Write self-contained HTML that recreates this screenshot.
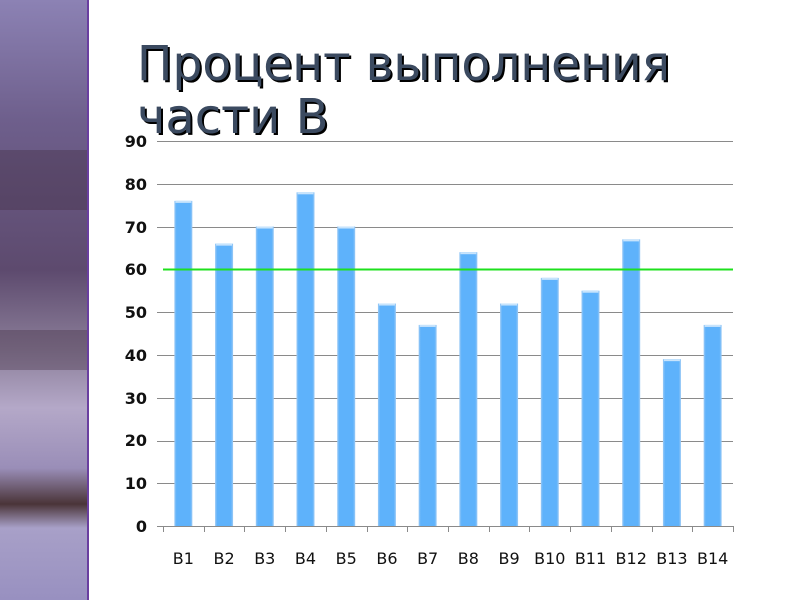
<!DOCTYPE html>
<html><head><meta charset="utf-8"><style>
html,body{margin:0;padding:0;background:#fff;}
</style></head><body>
<svg width="800" height="600" xmlns="http://www.w3.org/2000/svg" style="display:block">
<defs>
<linearGradient id="bg" x1="0" y1="0" x2="0" y2="1">
<stop offset="0" stop-color="#8c82b4"/>
<stop offset="0.2" stop-color="#6e5f8c"/>
<stop offset="0.45" stop-color="#5d4a6e"/>
<stop offset="0.58" stop-color="#8a7d98"/>
<stop offset="0.68" stop-color="#b4a8c8"/>
<stop offset="0.78" stop-color="#9a8eb8"/>
<stop offset="0.84" stop-color="#4a3438"/>
<stop offset="0.88" stop-color="#a8a0c8"/>
<stop offset="1" stop-color="#9890c0"/>
</linearGradient>
<linearGradient id="bar" x1="0" y1="0" x2="1" y2="0">
<stop offset="0" stop-color="#9ccaf5"/>
<stop offset="0.12" stop-color="#5eb2fb"/>
<stop offset="0.88" stop-color="#5eb2fb"/>
<stop offset="1" stop-color="#9ccaf5"/>
</linearGradient>
</defs>
<rect x="0" y="0" width="88" height="600" fill="url(#bg)"/>
<g fill="#3e2c40" opacity="0.35">
<rect x="0" y="150" width="88" height="60"/>
<rect x="0" y="330" width="88" height="40"/>
</g>
<rect x="87" y="0" width="2" height="600" fill="#6a3fa0"/>
<g font-family="DejaVu Sans, sans-serif" font-size="48">
<text x="139" y="82" fill="#000" textLength="533" lengthAdjust="spacingAndGlyphs">Процент выполнения</text>
<text x="139" y="135" fill="#000">части В</text>
<text x="137" y="80" fill="#3b4a60" textLength="533" lengthAdjust="spacingAndGlyphs">Процент выполнения</text>
<text x="137" y="133" fill="#3b4a60">части В</text>
</g>
<g stroke="#8a8a8a" stroke-width="1">
<line x1="157" y1="141.5" x2="733" y2="141.5"/>
<line x1="157" y1="184.5" x2="733" y2="184.5"/>
<line x1="157" y1="227.5" x2="733" y2="227.5"/>
<line x1="157" y1="312.5" x2="733" y2="312.5"/>
<line x1="157" y1="355.5" x2="733" y2="355.5"/>
<line x1="157" y1="398.5" x2="733" y2="398.5"/>
<line x1="157" y1="441.5" x2="733" y2="441.5"/>
<line x1="157" y1="483.5" x2="733" y2="483.5"/>
<line x1="157" y1="526.5" x2="733" y2="526.5"/>
</g>
<g id="bars"></g>
<line x1="163" y1="269.5" x2="733" y2="269.5" stroke="#1ee01e" stroke-width="2"/>
<g id="ticks" stroke="#8a8a8a"></g>
<g font-family="DejaVu Sans, sans-serif" font-size="16" font-weight="bold" text-anchor="end" fill="#111">
<text x="147" y="147">90</text><text x="147" y="190">80</text><text x="147" y="233">70</text>
<text x="147" y="275">60</text><text x="147" y="318">50</text><text x="147" y="361">40</text>
<text x="147" y="404">30</text><text x="147" y="446">20</text><text x="147" y="489">10</text>
<text x="147" y="532">0</text>
</g>
<g id="labels" font-family="DejaVu Sans, sans-serif" font-size="16" text-anchor="middle" fill="#111"></g>
<script>
var v=[76,66,70,78,70,52,47,64,52,58,55,67,39,47],ns="http://www.w3.org/2000/svg";
var b=document.getElementById('bars'),t=document.getElementById('ticks'),l=document.getElementById('labels');
var w=570/14;
for(var i=0;i<14;i++){
 var cx=163+w*(i+0.5),y=526-v[i]*4.278;
 var r=document.createElementNS(ns,'rect');r.setAttribute('x',cx-9);r.setAttribute('y',y);r.setAttribute('width',18);r.setAttribute('height',526-y);r.setAttribute('fill','url(#bar)');b.appendChild(r);
 var r2=document.createElementNS(ns,'rect');r2.setAttribute('x',cx-8);r2.setAttribute('y',y);r2.setAttribute('width',16);r2.setAttribute('height',2);r2.setAttribute('fill','#c8e4fc');b.appendChild(r2);
 var tx=document.createElementNS(ns,'text');tx.setAttribute('x',cx);tx.setAttribute('y',564);tx.textContent='B'+(i+1);l.appendChild(tx);
}
for(var i=0;i<=14;i++){var x=Math.round(163+w*i)+0.5;var ln=document.createElementNS(ns,'line');ln.setAttribute('x1',x);ln.setAttribute('x2',x);ln.setAttribute('y1',526);ln.setAttribute('y2',532);t.appendChild(ln);}
</script>
</svg>
</body></html>
